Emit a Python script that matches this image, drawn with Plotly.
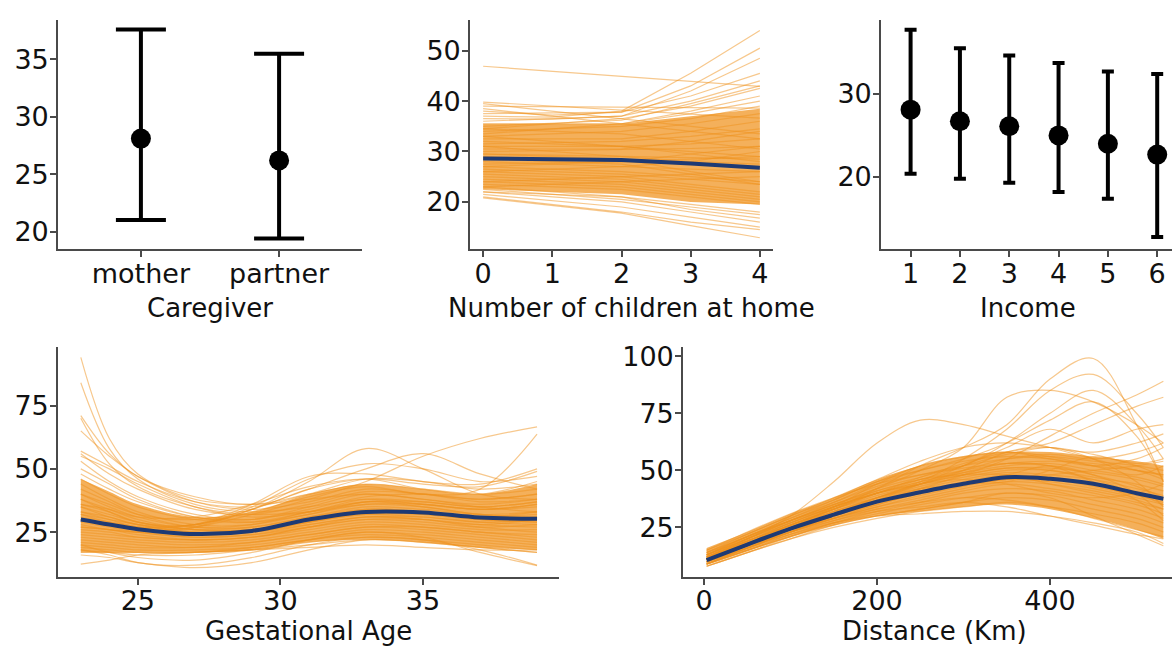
import plotly.graph_objects as go

# ---------------- data ----------------
caregiver = ["mother", "partner"]
caregiver_mean = [28.1, 26.2]
caregiver_low = [21.0, 19.4]
caregiver_high = [37.6, 35.5]

income = [1, 2, 3, 4, 5, 6]
income_mean = [28.1, 26.7, 26.1, 25.0, 24.0, 22.7]
income_low = [20.4, 19.8, 19.3, 18.2, 17.4, 12.8]
income_high = [37.7, 35.5, 34.6, 33.7, 32.7, 32.4]

# number of children at home: posterior draws evaluated at 0..4
children_x = [0, 1, 2, 3, 4]
children_mean = [28.6, 28.5, 28.3, 27.6, 26.8]
children_band_low = [22.5, 22.0, 21.5, 20.0, 19.5]
children_band_high = [35.5, 35.5, 35.5, 37.0, 38.5]
children_draws = [
    [46.9, 45.9, 44.9, 43.9, 42.9], [37.0, 36.8, 38.0, 45.5, 54.0],
    [38.0, 37.2, 37.8, 43.0, 50.5], [36.5, 36.4, 37.0, 42.0, 48.5],
    [39.8, 39.0, 38.2, 37.4, 36.6], [39.5, 38.0, 36.5, 35.0, 33.5],
    [39.0, 38.9, 38.8, 38.7, 38.6], [38.5, 37.0, 35.5, 34.0, 32.5],
    [37.5, 37.6, 37.8, 41.0, 45.5], [36.0, 36.5, 37.0, 40.0, 44.0],
    [35.0, 35.6, 36.2, 39.5, 43.0], [34.5, 35.5, 36.5, 39.0, 42.5],
    [33.5, 34.5, 35.5, 38.0, 41.0], [35.5, 35.5, 35.5, 37.5, 40.0],
    [34.0, 34.5, 35.0, 36.5, 39.0], [33.0, 33.5, 34.0, 35.5, 37.5],
    [32.5, 32.5, 32.5, 34.0, 36.0], [31.5, 31.8, 32.0, 33.0, 34.5],
    [31.0, 31.0, 31.0, 31.5, 32.5], [30.0, 30.2, 30.4, 30.6, 31.0],
    [29.5, 29.3, 29.0, 28.8, 28.5], [29.0, 28.5, 28.0, 27.5, 27.0],
    [28.0, 27.5, 27.0, 26.5, 26.0], [27.5, 27.8, 28.0, 28.5, 29.0],
    [27.0, 26.5, 26.0, 25.0, 24.0], [26.5, 26.0, 25.5, 24.5, 23.5],
    [26.0, 25.5, 25.0, 23.5, 22.0], [25.5, 25.0, 24.5, 23.0, 21.5],
    [25.0, 24.5, 24.0, 22.5, 21.0], [24.5, 24.0, 23.5, 22.0, 20.5],
    [24.0, 23.5, 23.0, 21.5, 20.0], [23.5, 23.0, 22.5, 21.0, 19.5],
    [23.0, 22.0, 21.0, 19.5, 18.0], [22.5, 21.5, 20.5, 19.0, 17.5],
    [22.0, 21.0, 20.0, 18.0, 16.0], [21.5, 20.3, 19.0, 17.0, 15.0],
    [21.0, 19.5, 18.0, 16.0, 14.5], [20.8, 19.3, 17.8, 15.3, 12.9],
    [22.0, 21.5, 21.0, 18.5, 16.8], [33.0, 32.0, 31.0, 30.0, 29.0],
    [31.0, 30.0, 29.0, 28.0, 27.5], [30.5, 30.5, 30.5, 32.0, 34.0],
    [27.0, 27.5, 28.0, 29.5, 31.0], [26.0, 26.5, 27.0, 28.0, 30.0],
    [24.0, 24.5, 25.0, 25.5, 26.0], [23.0, 23.5, 24.0, 24.5, 25.0],
    [28.5, 28.0, 27.5, 25.5, 23.5], [29.5, 29.0, 28.5, 26.0, 24.0],
    [32.0, 31.5, 31.0, 29.5, 28.0], [34.5, 34.0, 33.5, 32.0, 30.5],
]

# gestational age smooth draws
gest_x = [23, 24, 25, 27, 29, 31, 33, 35, 37, 39]
gest_mean = [30.0, 28.0, 26.2, 24.3, 25.5, 30.0, 33.0, 32.8, 30.8, 30.3]
gest_band_low = [17, 17, 17, 17, 18, 21, 22, 21, 19, 18]
gest_band_high = [46, 41, 36, 31, 33, 40, 44, 42, 40, 44]
gest_draws = [
    [94, 62, 48, 38, 36, 38, 40, 38, 35, 33], [84, 58, 46, 36, 33, 35, 38, 36, 34, 36],
    [71, 56, 47, 39, 36, 40, 44, 42, 40, 42], [70, 52, 43, 35, 32, 33, 36, 35, 32, 30],
    [65, 55, 47, 37, 34, 37, 42, 40, 38, 40], [57, 51, 45, 37, 35, 40, 46, 45, 42, 44],
    [56, 48, 42, 34, 32, 36, 41, 40, 37, 38], [55, 50, 44, 35, 31, 33, 37, 37, 35, 37],
    [53, 45, 39, 32, 30, 34, 39, 40, 38, 40], [50, 44, 38, 31, 29, 32, 37, 36, 34, 36],
    [48, 42, 37, 31, 30, 35, 40, 38, 36, 38], [46, 40, 35, 30, 29, 33, 38, 37, 35, 37],
    [44, 38, 33, 28, 28, 32, 36, 36, 34, 35], [42, 37, 32, 27, 27, 31, 35, 34, 32, 33],
    [40, 35, 31, 27, 28, 33, 37, 35, 32, 31], [38, 34, 30, 26, 26, 30, 34, 33, 31, 32],
    [36, 33, 29, 26, 27, 31, 34, 33, 30, 29], [35, 32, 29, 26, 26, 30, 33, 32, 30, 31],
    [33, 31, 28, 25, 26, 29, 32, 31, 29, 30], [32, 30, 28, 25, 25, 29, 33, 33, 31, 33],
    [31, 29, 27, 24, 25, 29, 32, 32, 30, 29], [30, 28, 26, 24, 25, 28, 31, 31, 29, 28],
    [29, 27, 25, 23, 24, 28, 31, 30, 28, 30], [28, 26, 25, 23, 24, 27, 30, 30, 28, 27],
    [27, 26, 24, 22, 23, 27, 30, 29, 27, 28], [26, 25, 23, 22, 23, 26, 29, 28, 26, 26],
    [25, 24, 23, 22, 23, 27, 31, 30, 27, 25], [24, 23, 22, 21, 22, 25, 28, 27, 25, 24],
    [23, 22, 21, 20, 21, 24, 27, 27, 25, 23], [22, 21, 20, 19, 21, 24, 27, 26, 24, 22],
    [21, 20, 19, 19, 20, 23, 26, 25, 23, 21], [20, 19, 18, 18, 19, 22, 25, 24, 22, 20],
    [19, 18, 17, 17, 19, 22, 24, 23, 21, 19], [18, 17, 17, 17, 18, 21, 23, 22, 20, 18],
    [17, 17, 16, 16, 18, 20, 22, 21, 19, 17], [12.4, 14, 16, 17, 18, 19, 20, 19, 18, 18],
    [16, 15, 13, 11, 13, 18, 22, 21, 19, 17], [18, 16, 13, 12, 15, 20, 23, 22, 18, 12],
    [20, 17, 15, 14, 17, 22, 25, 23, 17, 11.8], [30, 28, 26, 27, 32, 38, 45, 55, 62, 66.6],
    [32, 29, 27, 28, 33, 39, 43, 40, 42, 63.7], [35, 31, 28, 28, 34, 45, 58, 50, 40, 38],
    [38, 33, 29, 28, 35, 46, 52, 50, 45, 47], [33, 30, 27, 28, 36, 47, 48, 45, 44, 50],
    [27, 26, 25, 27, 34, 42, 50, 56, 48, 42], [40, 36, 32, 30, 34, 42, 46, 44, 43, 49],
    [36, 34, 31, 31, 36, 43, 46, 42, 40, 45],
]

# distance smooth draws
dist_x = [3, 50, 100, 150, 200, 250, 300, 350, 400, 450, 500, 531]
dist_mean = [10.7, 17.5, 24.5, 30.6, 36.3, 40.4, 44.1, 47.0, 46.3, 44.1, 40.0, 37.6]
dist_band_low = [8.5, 14.5, 21, 26, 30, 32, 34, 35, 33, 29, 24, 20]
dist_band_high = [16, 23, 31, 38, 46, 52, 56, 58, 58, 56, 54, 52]
dist_draws = [
    [12, 20, 30, 45, 62, 72, 70, 65, 60, 55, 50, 48],
    [11, 18, 26, 33, 42, 52, 60, 70, 90, 99, 70, 45],
    [10, 17, 24, 31, 38, 45, 55, 68, 85, 92, 75, 60],
    [13, 21, 28, 35, 42, 50, 60, 82, 85, 80, 70, 62],
    [10, 16, 23, 30, 36, 42, 48, 55, 65, 75, 83, 89],
    [11, 18, 25, 32, 38, 44, 50, 58, 62, 70, 78, 82],
    [12, 19, 26, 33, 40, 46, 52, 62, 75, 85, 70, 55],
    [9, 16, 23, 30, 37, 44, 52, 60, 68, 62, 68, 70],
    [14, 22, 30, 38, 46, 54, 60, 62, 60, 58, 62, 66],
    [13, 20, 28, 36, 44, 50, 55, 62, 72, 80, 65, 45],
    [10, 17, 25, 34, 44, 52, 56, 58, 55, 52, 55, 60],
    [15, 22, 30, 37, 45, 50, 54, 56, 55, 52, 50, 48],
    [14, 21, 29, 36, 43, 48, 52, 55, 56, 54, 52, 50],
    [13, 20, 28, 35, 41, 46, 50, 53, 54, 53, 50, 46],
    [12, 19, 27, 34, 40, 45, 49, 52, 53, 50, 47, 44],
    [12, 19, 26, 33, 39, 44, 48, 51, 51, 49, 46, 43],
    [11, 18, 25, 32, 38, 43, 47, 50, 50, 47, 44, 41],
    [11, 18, 25, 31, 37, 42, 46, 49, 48, 46, 42, 39],
    [10, 17, 24, 30, 36, 41, 45, 48, 47, 44, 40, 37],
    [10, 17, 24, 30, 35, 40, 44, 47, 46, 43, 39, 36],
    [10, 16, 23, 29, 34, 39, 43, 46, 45, 42, 38, 35],
    [9, 16, 23, 29, 34, 38, 42, 45, 44, 41, 37, 33],
    [9, 15, 22, 28, 33, 37, 41, 44, 42, 39, 35, 31],
    [9, 15, 21, 27, 32, 36, 40, 42, 41, 37, 33, 29],
    [8, 14, 21, 27, 31, 35, 38, 40, 39, 35, 31, 27],
    [8, 14, 20, 26, 30, 33, 36, 38, 37, 33, 29, 25],
    [8, 14, 20, 25, 29, 32, 34, 36, 34, 31, 27, 23],
    [11, 17, 23, 28, 32, 34, 36, 34, 30, 26, 22, 20],
    [10, 16, 22, 27, 30, 31, 32, 32, 30, 27, 23, 18],
    [9, 15, 21, 26, 30, 33, 36, 40, 38, 30, 22, 17],
    [12, 18, 24, 29, 33, 36, 38, 37, 34, 29, 24, 21],
    [14, 21, 28, 34, 40, 44, 48, 51, 50, 46, 40, 35],
    [15, 23, 31, 38, 44, 48, 51, 53, 52, 48, 43, 38],
    [13, 21, 29, 37, 45, 52, 56, 58, 56, 52, 48, 52],
    [12, 20, 28, 35, 42, 47, 52, 57, 60, 57, 53, 55],
    [11, 19, 27, 34, 40, 45, 50, 55, 57, 55, 58, 62],
    [10, 17, 25, 33, 40, 47, 53, 58, 60, 55, 45, 34],
    [9, 16, 24, 31, 38, 44, 49, 53, 52, 45, 37, 28],
    [11, 18, 26, 34, 41, 46, 48, 48, 44, 40, 36, 33],
    [12, 19, 26, 32, 37, 41, 44, 46, 48, 50, 52, 54],
    [13, 20, 27, 34, 40, 44, 46, 44, 40, 38, 40, 44],
    [10, 18, 26, 33, 38, 42, 44, 45, 50, 56, 52, 47],
    [11, 17, 23, 29, 35, 40, 44, 48, 52, 48, 40, 30],
]

axis_titles = ["Caregiver", "Number of children at home", "Income",
               "Gestational Age", "Distance (Km)"]

# ---------------- styling ----------------
FONT = "DejaVu Sans"
ORANGE_LINE = "rgba(240,146,28,0.5)"
ORANGE_FILL = "rgba(240,146,28,0.72)"
NAVY = "#1E3A74"
AXIS_COL = "#4a4a4a"
TXT = "#111111"

W, H = 1172, 647


def xdom(l, r):
    return [l / W, min(r / W, 1.0)]


def ydom(top, bottom):
    return [1 - bottom / H, 1 - top / H]


fig = go.Figure()


def add_spaghetti(xs, draws, band_lo, band_hi, mean, xa, ya, shape):
    # dense central band of draws
    fig.add_trace(go.Scatter(
        x=xs, y=band_hi, mode="lines",
        line=dict(width=0, shape=shape, color="rgba(0,0,0,0)"),
        hoverinfo="skip", xaxis=xa, yaxis=ya))
    fig.add_trace(go.Scatter(
        x=xs, y=band_lo, mode="lines", fill="tonexty", fillcolor=ORANGE_FILL,
        line=dict(width=0, shape=shape, color="rgba(0,0,0,0)"),
        hoverinfo="skip", xaxis=xa, yaxis=ya))
    for d in draws:
        fig.add_trace(go.Scatter(
            x=xs, y=d, mode="lines",
            line=dict(color=ORANGE_LINE, width=1.2, shape=shape, smoothing=1.0),
            hoverinfo="skip", xaxis=xa, yaxis=ya))
    fig.add_trace(go.Scatter(
        x=xs, y=mean, mode="lines",
        line=dict(color=NAVY, width=4, shape=shape, smoothing=1.0),
        hoverinfo="skip", xaxis=xa, yaxis=ya))


def add_errorbars(xs, mean, lo, hi, xa, ya, capw):
    fig.add_trace(go.Scatter(
        x=xs, y=mean, mode="markers",
        marker=dict(color="black", size=20),
        error_y=dict(type="data", symmetric=False,
                     array=[h - m for h, m in zip(hi, mean)],
                     arrayminus=[m - l for m, l in zip(mean, lo)],
                     color="black", thickness=4, width=capw),
        xaxis=xa, yaxis=ya))


# Caregiver
add_errorbars(caregiver, caregiver_mean, caregiver_low, caregiver_high, "x", "y", 25)
# Number of children
add_spaghetti(children_x, children_draws, children_band_low, children_band_high,
              children_mean, "x2", "y2", "linear")
# Income
add_errorbars(income, income_mean, income_low, income_high, "x3", "y3", 6)
# Gestational age
add_spaghetti(gest_x, gest_draws, gest_band_low, gest_band_high,
              gest_mean, "x4", "y4", "spline")
# Distance
add_spaghetti(dist_x, dist_draws, dist_band_low, dist_band_high,
              dist_mean, "x5", "y5", "spline")

axis_common = dict(
    showline=True, linecolor=AXIS_COL, linewidth=1.6,
    ticks="outside", ticklen=6, tickwidth=1.6, tickcolor=AXIS_COL,
    showgrid=False, zeroline=False,
    tickfont=dict(family=FONT, size=27, color=TXT),
)
xcommon = dict(ticklabelstandoff=-7, **axis_common)
ycommon = dict(ticklabelstandoff=-4, **axis_common)

top_row = ydom(13, 245)
bottom_row = ydom(344, 576)

fig.update_layout(
    width=W, height=H,
    margin=dict(l=0, r=0, t=0, b=0),
    paper_bgcolor="white", plot_bgcolor="white",
    showlegend=False,
    font=dict(family=FONT, color=TXT),
    xaxis=dict(domain=xdom(58, 362), anchor="y", type="category",
               range=[-0.6, 1.6], **xcommon),
    yaxis=dict(domain=top_row, anchor="x", range=[18.45, 38.45],
               tickvals=[20, 25, 30, 35], **ycommon),
    xaxis2=dict(domain=xdom(470, 773), anchor="y2", range=[-0.19, 4.19],
                tickvals=[0, 1, 2, 3, 4], **xcommon),
    yaxis2=dict(domain=top_row, anchor="x2", range=[10.6, 56.1],
                tickvals=[20, 30, 40, 50], **ycommon),
    xaxis3=dict(domain=xdom(881, 1172), anchor="y3", range=[0.4, 6.3],
                tickvals=income, **xcommon),
    yaxis3=dict(domain=top_row, anchor="x3", range=[11.3, 38.9],
                tickvals=[20, 30], **ycommon),
    xaxis4=dict(domain=xdom(58, 559), anchor="y4", range=[22.2, 39.77],
                tickvals=[25, 30, 35], **xcommon),
    yaxis4=dict(domain=bottom_row, anchor="x4", range=[7.4, 98],
                tickvals=[25, 50, 75], **ycommon),
    xaxis5=dict(domain=xdom(683, 1172), anchor="y5", range=[-24.3, 541],
                tickvals=[0, 200, 400], **xcommon),
    yaxis5=dict(domain=bottom_row, anchor="x5", range=[3.4, 103.9],
                tickvals=[25, 50, 75, 100], **ycommon),
)

# axis titles placed under each panel
title_pos = [(210, 304), (631, 304), (1028, 304), (308, 631), (934, 631)]
for text, (cx, cy) in zip(axis_titles, title_pos):
    fig.add_annotation(
        text=text, x=cx / W, y=1 - cy / H, xref="paper", yref="paper",
        xanchor="center", yanchor="middle", showarrow=False,
        font=dict(family=FONT, size=26, color=TXT))

fig.write_html("out.html")
